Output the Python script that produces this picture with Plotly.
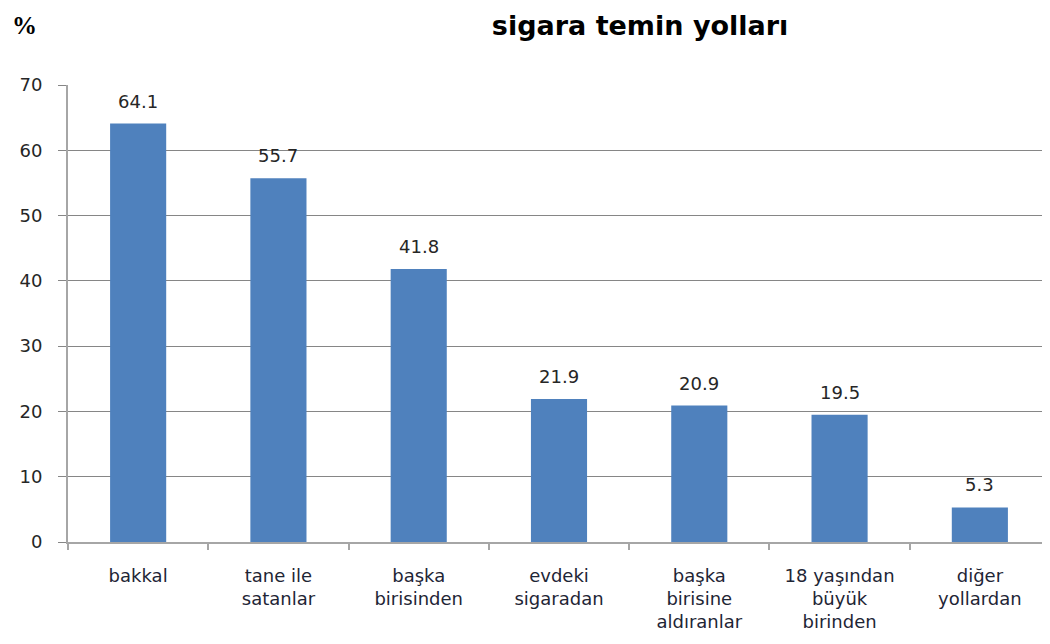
import plotly.graph_objects as go

categories = ["bakkal", "tane ile<br>satanlar", "başka<br>birisinden", "evdeki<br>sigaradan",
              "başka<br>birisine<br>aldıranlar", "18 yaşından<br>büyük<br>birinden", "diğer<br>yollardan"]
values = [64.1, 55.7, 41.8, 21.9, 20.9, 19.5, 5.3]
y_ticks = [0, 10, 20, 30, 40, 50, 60, 70]

FONT = "DejaVu Sans"

fig = go.Figure()
fig.add_trace(go.Bar(
    x=categories, y=values, width=0.4,
    marker=dict(color="#4F81BD", line=dict(width=0)),
))

annotations = [
    dict(x=c, y=v, text=f"{v:.1f}", xref="x", yref="y", showarrow=False,
         yanchor="bottom", yshift=10,
         font=dict(family=FONT, size=18, color="#262626"))
    for c, v in zip(categories, values)
]
annotations.append(dict(text="<b>%</b>", xref="paper", yref="paper", x=-0.044, y=1.131,
                        xanchor="center", yanchor="middle", showarrow=False,
                        font=dict(family="Liberation Serif", size=25, color="#000000")))

fig.update_layout(
    width=1050, height=644,
    margin=dict(l=60, r=8, t=77, b=110),
    paper_bgcolor="white", plot_bgcolor="white",
    showlegend=False,
    title=dict(text="<b>sigara temin yolları</b>", x=0.602, xanchor="center", y=0.973, yanchor="middle",
               font=dict(family=FONT, size=27, color="#000000")),
    annotations=annotations,
)
fig.update_xaxes(
    showline=True, linecolor="#A6A6A6", linewidth=2,
    ticks="outside", ticklen=6, tickcolor="#A6A6A6", tickwidth=2,
    tickson="boundaries",
    tickfont=dict(family=FONT, size=18, color="#1E2535"),
    ticklabelstandoff=16,
    showgrid=False,
)
fig.update_yaxes(
    range=[0, 70], tickvals=y_ticks,
    showline=True, linecolor="#A6A6A6", linewidth=2,
    ticks="outside", ticklen=8, tickcolor="#868686", tickwidth=1,
    showgrid=True, gridcolor="#868686", gridwidth=1,
    tickfont=dict(family=FONT, size=18, color="#262626"),
    ticklabelstandoff=12,
    zeroline=False,
)

fig.write_html("out.html")
